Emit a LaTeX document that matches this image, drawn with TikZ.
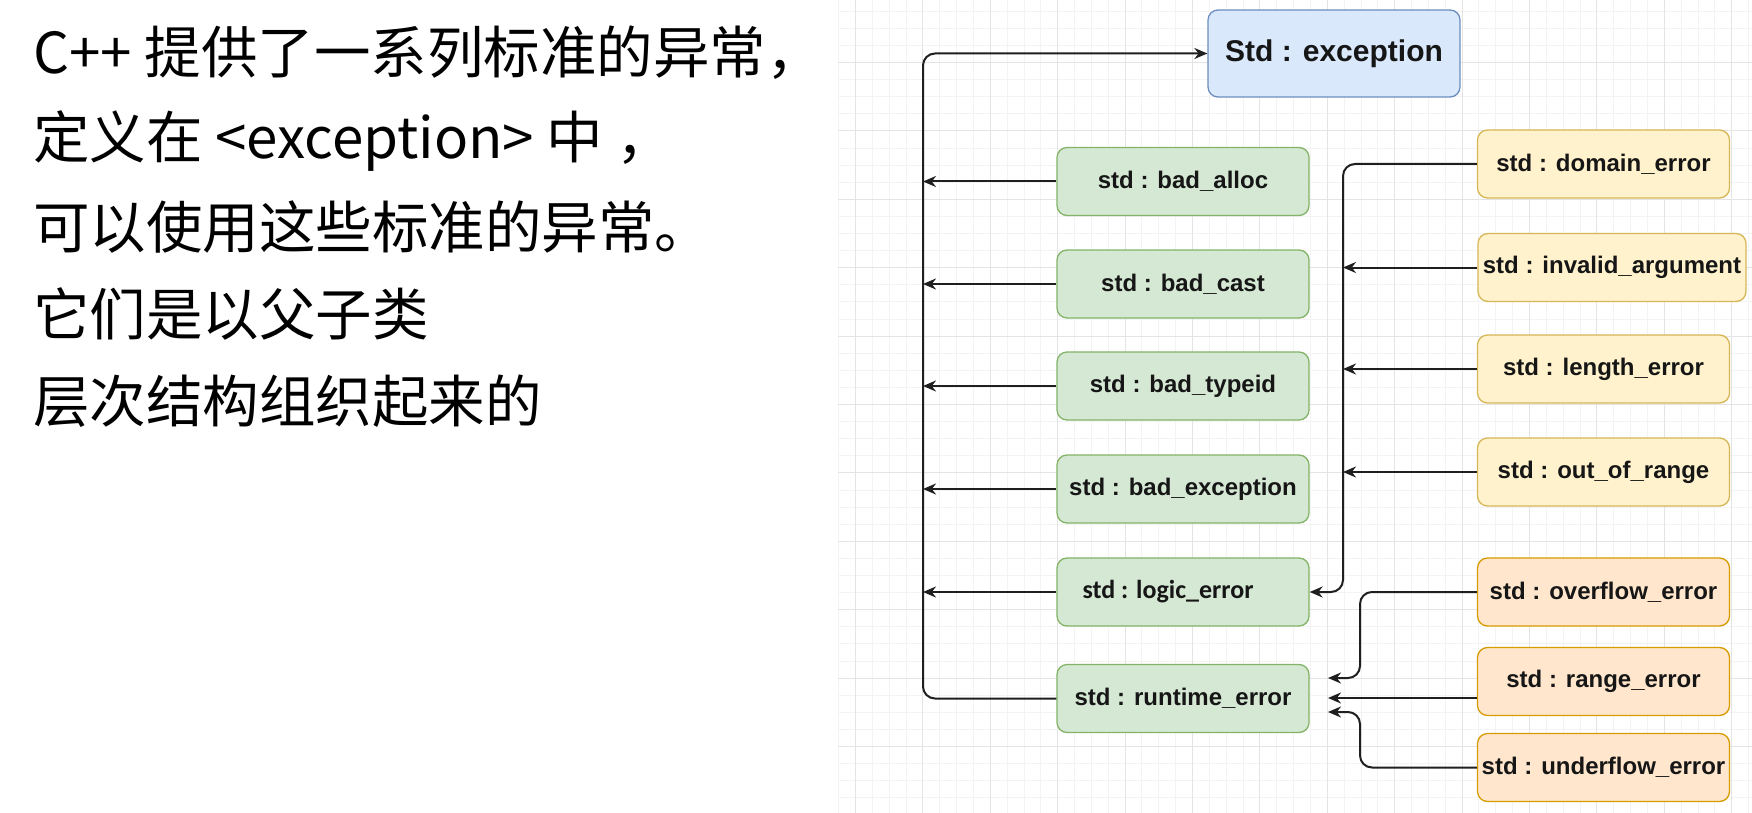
\documentclass[tikz,border=0pt]{standalone}
\usepackage{fontspec}
\newfontfamily\cjkf{Noto Sans CJK SC}
\newfontfamily\arialf{Liberation Sans}
\newfontfamily\calf{Carlito}
\usetikzlibrary{arrows.meta}
\definecolor{gridminor}{HTML}{F3F3F3}
\definecolor{gridmajor}{HTML}{E4E4E4}
\definecolor{bluefill}{HTML}{DAE8FC}\definecolor{bluedraw}{HTML}{6C8EBF}
\definecolor{greenfill}{HTML}{D5E8D4}\definecolor{greendraw}{HTML}{82B366}
\definecolor{yellowfill}{HTML}{FFF2CC}\definecolor{yellowdraw}{HTML}{D6B656}
\definecolor{orangefill}{HTML}{FFE6CC}\definecolor{orangedraw}{HTML}{D79B00}
\definecolor{inkc}{HTML}{161616}
\tikzset{
  box/.style={rectangle, rounded corners=10pt, line width=1.3pt, minimum height=68pt,
    minimum width=252pt, inner sep=0pt, text=inkc,
    font=\arialf\bfseries\fontsize{24}{28}\selectfont},
  rootbox/.style={box, fill=bluefill, draw=bluedraw, minimum height=87pt,
    font=\arialf\bfseries\fontsize{30}{34}\selectfont},
  gbox/.style={box, fill=greenfill, draw=greendraw},
  ybox/.style={box, fill=yellowfill, draw=yellowdraw},
  obox/.style={box, fill=orangefill, draw=orangedraw},
  link/.style={line width=2pt, draw=black!88, rounded corners=12pt,
    -{Stealth[length=13pt,width=11pt]}},
  cjktext/.style={anchor=base west, inner sep=0pt,
    font=\cjkf\fontsize{56.5}{60}\selectfont},
}
\begin{document}
\begin{tikzpicture}[x=1pt,y=-1pt]
\useasboundingbox[fill=white] (0,0) rectangle (1752,813);
% grid
\foreach \i in {0,...,54} {
  \pgfmathsetmacro\gx{round(838.15+16.85*\i)+0.5}
  \draw[gridminor, line width=1pt] (\gx,0) -- (\gx,813);
}
\foreach \i in {0,...,46} {
  \pgfmathsetmacro\gy{round(10.7+17.1*\i)+0.5}
  \draw[gridminor, line width=1pt] (838,\gy) -- (1752,\gy);
}
\foreach \i in {0,...,13} {
  \pgfmathsetmacro\gx{round(855+67.4*\i)+0.5}
  \draw[gridmajor, line width=1pt] (\gx,0) -- (\gx,813);
}
\foreach \i in {0,...,10} {
  \pgfmathsetmacro\gy{round(62+68.4*\i)+0.5}
  \draw[gridmajor, line width=1pt] (838,\gy) -- (1752,\gy);
}

% left text
\node[cjktext] (t1) at (33,74) {C++ 提供了一系列标准的异常，};
\node[cjktext] (t2) at (33,159) {定义在 <exception> 中 ，};
\node[cjktext] (t3) at (33,248) {可以使用这些标准的异常。};
\node[cjktext] (t4) at (33,335) {它们是以父子类};
\node[cjktext] (t5) at (33,422) {层次结构组织起来的};

% nodes
\node[rootbox, minimum width=252pt] (exc) at (1334,53.5) {Std : exception};

\node[gbox] (balloc) at (1183,181.5) {std : bad\_alloc};
\node[gbox] (bcast) at (1183,284) {std : bad\_cast};
\node[gbox] (btype) at (1183,386) {std : bad\_typeid};
\node[gbox] (bexc) at (1183,489) {std : bad\_exception};
\node[gbox, font=\calf\bfseries\fontsize{26}{30}\selectfont] (logic) at (1183,592) {std : logic\_error\hspace*{30pt}};
\node[gbox] (runtime) at (1183,698.5) {std : runtime\_error};

\node[ybox] (domain) at (1603.5,164) {std : domain\_error};
\node[ybox, minimum width=268pt] (invalid) at (1612,267.5) {std : invalid\_argument};
\node[ybox] (length) at (1603.5,369) {std : length\_error};
\node[ybox] (outrange) at (1603.5,472) {std : out\_of\_range};

\node[obox] (overflow) at (1603.5,592) {std : overflow\_error};
\node[obox] (range) at (1603.5,681.5) {std : range\_error};
\node[obox] (underflow) at (1603.5,767.5) {std : underflow\_error};

% bus coordinates
\coordinate (lbus) at (923,0);
\coordinate (rbus) at (1343,0);
\coordinate (obus) at (1360,0);
\coordinate (rin1) at (1328,678);
\coordinate (rin2) at (1328,698);
\coordinate (rin3) at (1328,712);

% connectors
\draw[link] (runtime.west) -- (runtime.west -| lbus) -- (exc.west -| lbus) -- (exc.west);
\foreach \n in {balloc,bcast,btype,bexc,logic} {
  \draw[link] (\n.west) -- (\n.west -| lbus);
}
\draw[link] (domain.west) -- (domain.west -| rbus) -- (logic.east -| rbus) -- (logic.east);
\foreach \n in {invalid,length,outrange} {
  \draw[link] (\n.west) -- (\n.west -| rbus);
}
\draw[link] (overflow.west) -- (overflow.west -| obus) -- (obus |- rin1) -- (rin1);
\draw[link] (range.west |- rin2) -- (rin2);
\draw[link] (underflow.west) -- (underflow.west -| obus) -- (obus |- rin3) -- (rin3);
\end{tikzpicture}
\end{document}
